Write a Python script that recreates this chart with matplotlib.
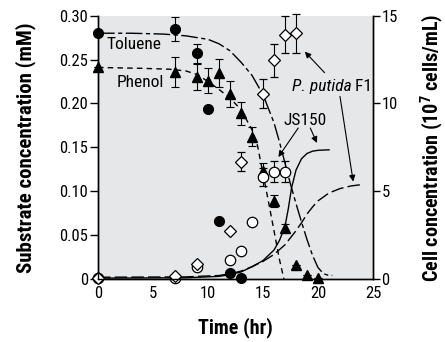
import matplotlib
matplotlib.use("Agg")
import matplotlib.pyplot as plt

plt.rcParams['font.family'] = ['Roboto Condensed', 'DejaVu Sans']
plt.rcParams['mathtext.fontset'] = 'custom'
plt.rcParams['mathtext.rm'] = 'Roboto Condensed'
plt.rcParams['mathtext.bf'] = 'Roboto Condensed:bold'

# measured data, substrate (mM)
t_tol = [0, 7, 9, 10, 11, 12, 13]
tol = [0.280, 0.285, 0.257, 0.194, 0.066, 0.007, 0.0015]
tol_err = [0, 0.014, 0.011, 0, 0, 0, 0]

t_phe = [0, 7, 9, 10, 11, 12, 13, 14, 15, 16, 17, 18, 19, 20]
phe = [0.242, 0.236, 0.230, 0.226, 0.235, 0.211, 0.189, 0.162, 0.123, 0.089, 0.058, 0.016, 0.005, 0.001]
phe_err = [0, 0.017, 0.015, 0.014, 0.016, 0.015, 0.013, 0.011, 0.009, 0.007, 0.005, 0, 0, 0]

# measured data, cells (10^7 cells/mL)
t_f1 = [0, 7, 9, 12, 13, 15, 16, 17, 18]
f1 = [0.08, 0.15, 0.87, 2.72, 6.69, 10.55, 12.45, 13.92, 14.0]
f1_err = [0, 0, 0, 0, 0.55, 0.83, 0.95, 1.07, 1.1]

t_js = [0, 7, 9, 12, 13, 14, 15, 16, 17]
js = [0.05, 0.04, 0.67, 1.08, 1.61, 3.27, 5.8, 6.12, 6.12]
js_err = [0, 0, 0, 0, 0, 0.15, 0.5, 0.6, 0.6]

# model curves
tol_fit_t = [0, 3, 6, 8, 10, 11, 12, 13, 14, 15, 16, 16.5, 17, 17.5, 18, 18.5, 19, 19.5, 20, 20.5, 21, 21.3]
tol_fit = [0.280, 0.280, 0.279, 0.277, 0.273, 0.268, 0.260, 0.247, 0.232, 0.210, 0.178, 0.156, 0.132, 0.108, 0.086,
           0.065, 0.045, 0.027, 0.013, 0.006, 0.004, 0.004]

phe_fit_t = [0, 4, 6.5, 8, 9, 10, 11, 12, 13, 14, 14.5, 15, 15.5, 16, 16.5, 16.9]
phe_fit = [0.241, 0.240, 0.239, 0.237, 0.233, 0.225, 0.216, 0.206, 0.193, 0.170, 0.152, 0.120, 0.088, 0.055, 0.022, 0.0]

js_fit_t = [0, 8, 11, 12, 13, 14, 15, 16, 16.5, 17, 17.3, 17.6, 18, 18.5, 19, 19.5, 20, 21]
js_fit = [0.05, 0.07, 0.15, 0.25, 0.40, 0.70, 1.05, 1.65, 2.2, 3.0, 4.0, 5.2, 6.2, 6.85, 7.15, 7.28, 7.33, 7.36]

f1_fit_t = [0, 8, 11, 12, 13, 14, 15, 16, 17, 18, 18.5, 19, 19.5, 20, 21, 22, 23, 24]
f1_fit = [0.1, 0.12, 0.2, 0.3, 0.45, 0.7, 1.0, 1.4, 1.95, 2.75, 3.2, 3.7, 4.1, 4.45, 4.9, 5.15, 5.3, 5.38]

fig = plt.figure(figsize=(4.45, 3.42), dpi=100)
ax = fig.add_axes([0.2202, 0.1842, 0.618, 0.77])
ax.set_facecolor('#e6e7e8')
ax2 = ax.twinx()

lw = 1.0
ax.plot(tol_fit_t, tol_fit, color='black', lw=lw, dashes=(12, 2.5, 3, 2.5))
ax.plot(phe_fit_t, phe_fit, color='black', lw=lw, dashes=(4, 3))
ax2.plot(js_fit_t, js_fit, color='black', lw=lw)
ax2.plot(f1_fit_t, f1_fit, color='black', lw=lw, dashes=(9, 3))

eb = dict(ecolor='black', elinewidth=0.8, capsize=3, capthick=0.8, ls='none', clip_on=False)
ax.errorbar(t_tol, tol, yerr=tol_err, marker='o', ms=7, mfc='black', mec='black', **eb)
ax.errorbar(t_phe, phe, yerr=phe_err, marker='^', ms=7.5, mfc='black', mec='black', **eb)
ax2.errorbar(t_js, js, yerr=js_err, marker='o', ms=7.5, mfc='white', mec='black', mew=0.9, **eb)
ax2.errorbar(t_f1, f1, yerr=f1_err, marker='D', ms=6, mfc='white', mec='black', mew=0.9, **eb)

ax.set_xlim(0, 25)
ax.set_ylim(0, 0.30)
ax2.set_ylim(0, 15)
ax.set_xticks([0, 5, 10, 15, 20, 25])
ax.set_yticks([0, 0.05, 0.10, 0.15, 0.20, 0.25, 0.30])
ax.set_yticklabels(['0', '0.05', '0.10', '0.15', '0.20', '0.25', '0.30'])
ax2.set_yticks([0, 5, 10, 15])

for a in (ax, ax2):
    a.spines['top'].set_visible(False)
    for s in a.spines.values():
        s.set_linewidth(1.0)
ax.tick_params(axis='y', direction='out', length=6, width=1, labelsize=12, pad=1)
ax.tick_params(axis='x', length=0, labelsize=12, pad=5)
ax2.tick_params(axis='y', direction='out', length=5, width=1, labelsize=12, pad=1)

ax.set_xlabel('Time (hr)', fontsize=14.5, fontweight='bold', labelpad=12)
ax.set_ylabel('Substrate concentration (mM)', fontsize=15, fontweight='bold', labelpad=17)
ax2.set_ylabel(r'Cell concentration (10$^{\mathbf{7}}$ cells/mL)', fontsize=14.5, fontweight='bold', labelpad=15)

ax.text(0.8, 0.267, 'Toluene', fontsize=12.5, va='center', ha='left')
ax.text(1.7, 0.224, 'Phenol', fontsize=12.5, va='center', ha='left')
pp = ax.text(17.6, 0.219, 'P. putida', fontsize=12.5, va='center', ha='left', style='italic')
ax.annotate(' F1', xy=(1, 0.5), xycoords=pp, fontsize=12.5, va='center', ha='left')
ax.text(18.8, 0.181, 'JS150', fontsize=12.5, va='center', ha='center')

arrow = dict(arrowstyle='-|>', color='black', lw=0.8, mutation_scale=9, shrinkA=0, shrinkB=0)
ax.annotate('', xy=(18.8, 0.259), xytext=(20.6, 0.235), arrowprops=arrow)
ax.annotate('', xy=(23.2, 0.111), xytext=(22.0, 0.208), arrowprops=arrow)
ax.annotate('', xy=(16.4, 0.139), xytext=(18.2, 0.172), arrowprops=arrow)
ax.annotate('', xy=(19.9, 0.155), xytext=(19.3, 0.172), arrowprops=arrow)

fig.savefig('out.png', dpi=100)
